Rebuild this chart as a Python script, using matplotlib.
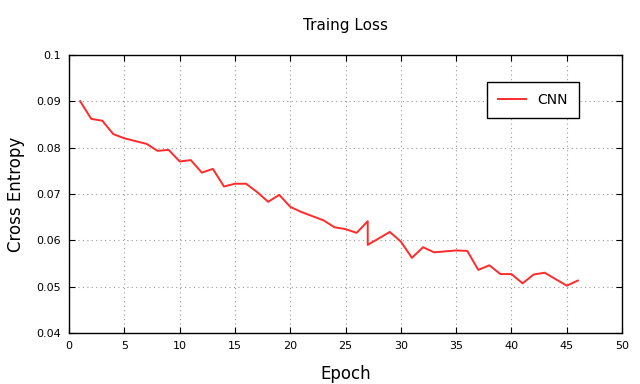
import matplotlib
matplotlib.use("Agg")
import matplotlib.pyplot as plt

# training loss per epoch (epoch 27 appears twice: jump in the curve)
epochs = [1, 2, 3, 4, 5, 6, 7, 8, 9, 10, 11, 12, 13, 14, 15, 16, 17, 18, 19, 20,
          21, 22, 23, 24, 25, 26, 27, 27, 28, 29, 30, 31, 32, 33, 34, 35, 36, 37,
          38, 39, 40, 41, 42, 43, 44, 45, 46]
loss = [0.0900, 0.0862, 0.0858, 0.0829, 0.0820, 0.0814, 0.0808, 0.0793, 0.0795,
        0.0770, 0.0773, 0.0746, 0.0754, 0.0716, 0.0722, 0.0722, 0.0704, 0.0683,
        0.0698, 0.0672, 0.0661, 0.0652, 0.0643, 0.0628, 0.0624, 0.0616, 0.0641,
        0.0590, 0.0604, 0.0618, 0.0597, 0.0562, 0.0585, 0.0574, 0.0576, 0.0578,
        0.0577, 0.0536, 0.0546, 0.0527, 0.0527, 0.0507, 0.0526, 0.0530, 0.0516,
        0.0502, 0.0513]

x_ticks = [0, 5, 10, 15, 20, 25, 30, 35, 40, 45, 50]
y_ticks = [0.04, 0.05, 0.06, 0.07, 0.08, 0.09, 0.1]
y_labels = ["0.04", "0.05", "0.06", "0.07", "0.08", "0.09", "0.1"]

fig = plt.figure(figsize=(6.4, 3.84), dpi=100)
ax = fig.add_axes([0.108, 0.133, 0.864, 0.724])

ax.plot(epochs, loss, color="#ff2a2a", linewidth=1.4, label="CNN")

ax.set_xlim(0, 50)
ax.set_ylim(0.04, 0.1)
ax.set_xticks(x_ticks)
ax.set_yticks(y_ticks)
ax.set_yticklabels(y_labels)
ax.tick_params(direction="in", length=4, width=0.8, labelsize=8,
               top=True, right=True, pad=6)
ax.grid(True, color="#999999", linestyle=(0, (1, 3)), linewidth=0.8)
for s in ax.spines.values():
    s.set_linewidth(1.0)

ax.set_title("Traing Loss", fontsize=11, pad=18)
ax.set_xlabel("Epoch", fontsize=12, labelpad=10)
ax.set_ylabel("Cross Entropy", fontsize=12, labelpad=8)

leg = ax.legend(loc="upper left", bbox_to_anchor=(0.756, 0.903), fontsize=10,
                fancybox=False, framealpha=1, edgecolor="black",
                borderaxespad=0, handlelength=2.0, borderpad=0.8,
                handletextpad=0.8)
leg.get_frame().set_linewidth(1.0)

fig.savefig("out.png", dpi=100)
